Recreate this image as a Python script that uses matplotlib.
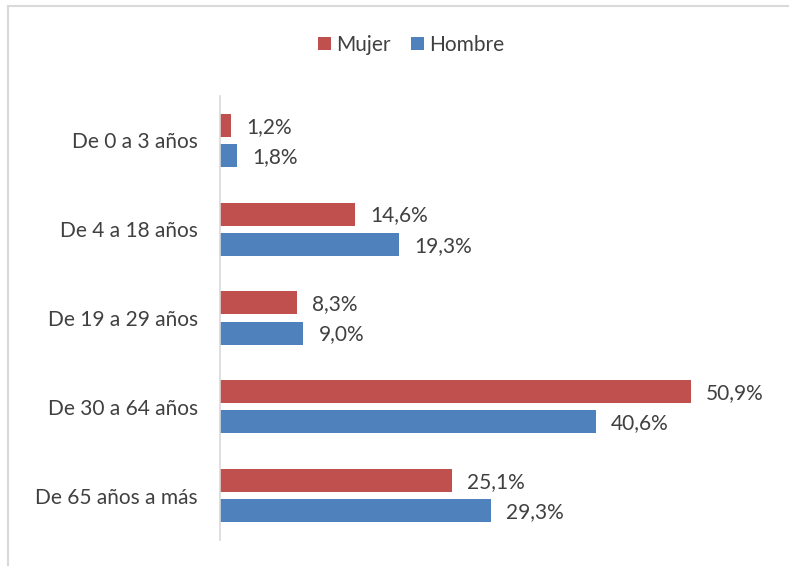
import matplotlib.pyplot as plt
from matplotlib.lines import Line2D
import numpy as np

plt.rcParams['font.family'] = ['Lato', 'DejaVu Sans']

categorias = ['De 0 a 3 años', 'De 4 a 18 años', 'De 19 a 29 años',
              'De 30 a 64 años', 'De 65 años a más']
mujer = [1.2, 14.6, 8.3, 50.9, 25.1]
hombre = [1.8, 19.3, 9.0, 40.6, 29.3]

c_mujer = '#C0504D'
c_hombre = '#4F81BD'
c_texto = '#404040'

W, H = 789, 566
fig = plt.figure(figsize=(W / 100, H / 100), dpi=100)
ax = fig.add_axes([220 / W, 1 - 540 / H, (775 - 220) / W, (540 - 96) / H])

y = np.arange(len(categorias))
alto = 0.26
off = 0.17
b1 = ax.barh(y - off, mujer, height=alto, color=c_mujer, label='Mujer')
b2 = ax.barh(y + off, hombre, height=alto, color=c_hombre, label='Hombre')

def fmt(v):
    return f'{v:.1f}%'.replace('.', ',')

for barras, vals in ((b1, mujer), (b2, hombre)):
    for b, v in zip(barras, vals):
        ax.annotate(fmt(v), (b.get_width(), b.get_y() + b.get_height() / 2),
                    xytext=(11, -1), textcoords='offset points',
                    va='center', ha='left', fontsize=15, color=c_texto)

ax.set_xlim(0, 60)
ax.set_ylim(len(categorias) - 0.5, -0.5)
ax.set_yticks(y)
ax.set_yticklabels(categorias, fontsize=15, color=c_texto)
ax.tick_params(axis='y', length=0, pad=16)
ax.set_xticks([])
for s in ['top', 'right', 'bottom']:
    ax.spines[s].set_visible(False)
ax.spines['left'].set_color('#D9D9D9')
ax.spines['left'].set_linewidth(1.2)

fig.legend(handles=[b1, b2], loc='center', bbox_to_anchor=(411 / W, 1 - 45 / H),
           ncol=2, frameon=False, fontsize=15, labelcolor=c_texto,
           handlelength=0.6, handleheight=0.6, handletextpad=0.25,
           columnspacing=1.0)

# borde del grafico
fig.add_artist(Line2D([8 / W, 1], [1 - 6 / H, 1 - 6 / H], color='#D9D9D9', lw=1.5))
fig.add_artist(Line2D([8 / W, 8 / W], [0, 1 - 6 / H], color='#D9D9D9', lw=1.5))

fig.savefig('out.png', dpi=100)
